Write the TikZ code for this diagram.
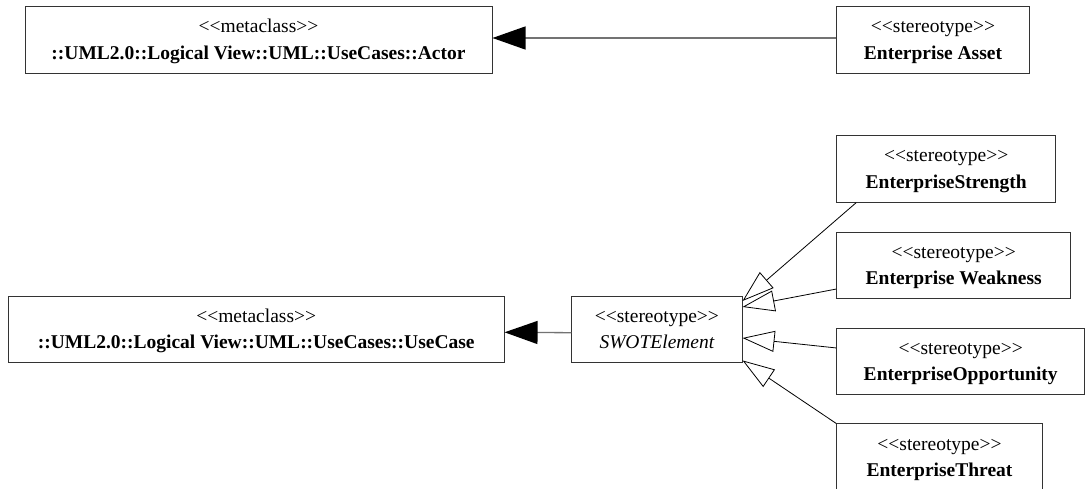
\documentclass[tikz,border=0pt]{standalone}
\usepackage{fontspec}
\setmainfont{Liberation Serif}
\usetikzlibrary{arrows.meta}

% double angle brackets kept apart so the TeX mapping does not turn them into guillemets
\newcommand{\stereotag}[1]{<\kern0pt<#1>\kern0pt>}

\begin{document}
\begin{tikzpicture}[x=1pt, y=-1pt,
  umlbox/.style={draw=black!80, line width=1pt, fill=white, inner sep=0pt,
    minimum height=66.5pt},
  taglabel/.style={anchor=base, inner sep=0pt, font=\fontsize{19.5}{24}\selectfont},
  namelabel/.style={anchor=base, inner sep=0pt, font=\fontsize{19.5}{24}\selectfont\bfseries},
  extends/.style={draw=black!55, line width=1.3pt,
    -{Triangle[length=33pt, width=23pt, black]}},
  generalizes/.style={draw=black, line width=0.8pt,
    -{Triangle[open, length=32pt, width=21pt, fill=white]}}
]
\useasboundingbox (0,0) rectangle (1087,489);

% metaclass boxes
\node[umlbox, minimum width=467pt] (actor) at (258.5,40) {};
\node[taglabel]  (actor-tag)  at ([yshift=-26.6pt]actor.north) {\stereotag{metaclass}};
\node[namelabel] (actor-name) at ([yshift=-52.9pt]actor.north) {::UML2.0::Logical View::UML::UseCases::Actor};

\node[umlbox, minimum width=495.7pt] (usecase) at (256.2,329.3) {};
\node[taglabel]  (usecase-tag)  at ([yshift=-26.6pt]usecase.north) {\stereotag{metaclass}};
\node[namelabel] (usecase-name) at ([yshift=-52.9pt]usecase.north) {::UML2.0::Logical View::UML::UseCases::UseCase};

% stereotype boxes
\node[umlbox, minimum width=192.6pt] (asset) at (933,40) {};
\node[taglabel]  (asset-tag)  at ([yshift=-26.6pt]asset.north) {\stereotag{stereotype}};
\node[namelabel] (asset-name) at ([yshift=-52.9pt]asset.north) {Enterprise Asset};

\node[umlbox, minimum width=170.3pt] (swot) at (656.9,329.7) {};
\node[taglabel]  (swot-tag)  at ([yshift=-26.6pt]swot.north) {\stereotag{stereotype}};
\node[taglabel]  (swot-name) at ([yshift=-52.9pt]swot.north) {\itshape SWOTElement};

\node[umlbox, minimum width=219pt] (strength) at (946.2,168.9) {};
\node[taglabel]  (strength-tag)  at ([yshift=-26.6pt]strength.north) {\stereotag{stereotype}};
\node[namelabel] (strength-name) at ([yshift=-52.9pt]strength.north) {EnterpriseStrength};

\node[umlbox, minimum width=234pt] (weakness) at (953.7,265.3) {};
\node[taglabel]  (weakness-tag)  at ([yshift=-26.6pt]weakness.north) {\stereotag{stereotype}};
\node[namelabel] (weakness-name) at ([yshift=-52.9pt]weakness.north) {Enterprise Weakness};

\node[umlbox, minimum width=248pt] (opportunity) at (960.7,361.7) {};
\node[taglabel]  (opportunity-tag)  at ([yshift=-26.6pt]opportunity.north) {\stereotag{stereotype}};
\node[namelabel] (opportunity-name) at ([yshift=-52.9pt]opportunity.north) {EnterpriseOpportunity};

\node[umlbox, minimum width=205.6pt] (threat) at (939.5,457.2) {};
\node[taglabel]  (threat-tag)  at ([yshift=-26.6pt]threat.north) {\stereotag{stereotype}};
\node[namelabel] (threat-name) at ([yshift=-52.9pt]threat.north) {EnterpriseThreat};

% extension of the metaclasses
\draw[extends] ([yshift=2pt]asset.west) -- ([yshift=2pt]actor.east);
\draw[extends] ([yshift=-3pt]swot.west) -- ([yshift=-3pt]usecase.east);

% generalizations to SWOTElement
\draw[generalizes] ([xshift=20pt]strength.south west) -- ([yshift=-5pt]swot.north east);
\draw[generalizes] ([yshift=10pt]weakness.south west) -- ([yshift=-11pt]swot.north east);
\draw[generalizes] ([yshift=-20pt]opportunity.north west) -- ([yshift=-8.3pt]swot.east);
\draw[generalizes] (threat.north west) -- ([yshift=3pt]swot.south east);
\end{tikzpicture}
\end{document}
